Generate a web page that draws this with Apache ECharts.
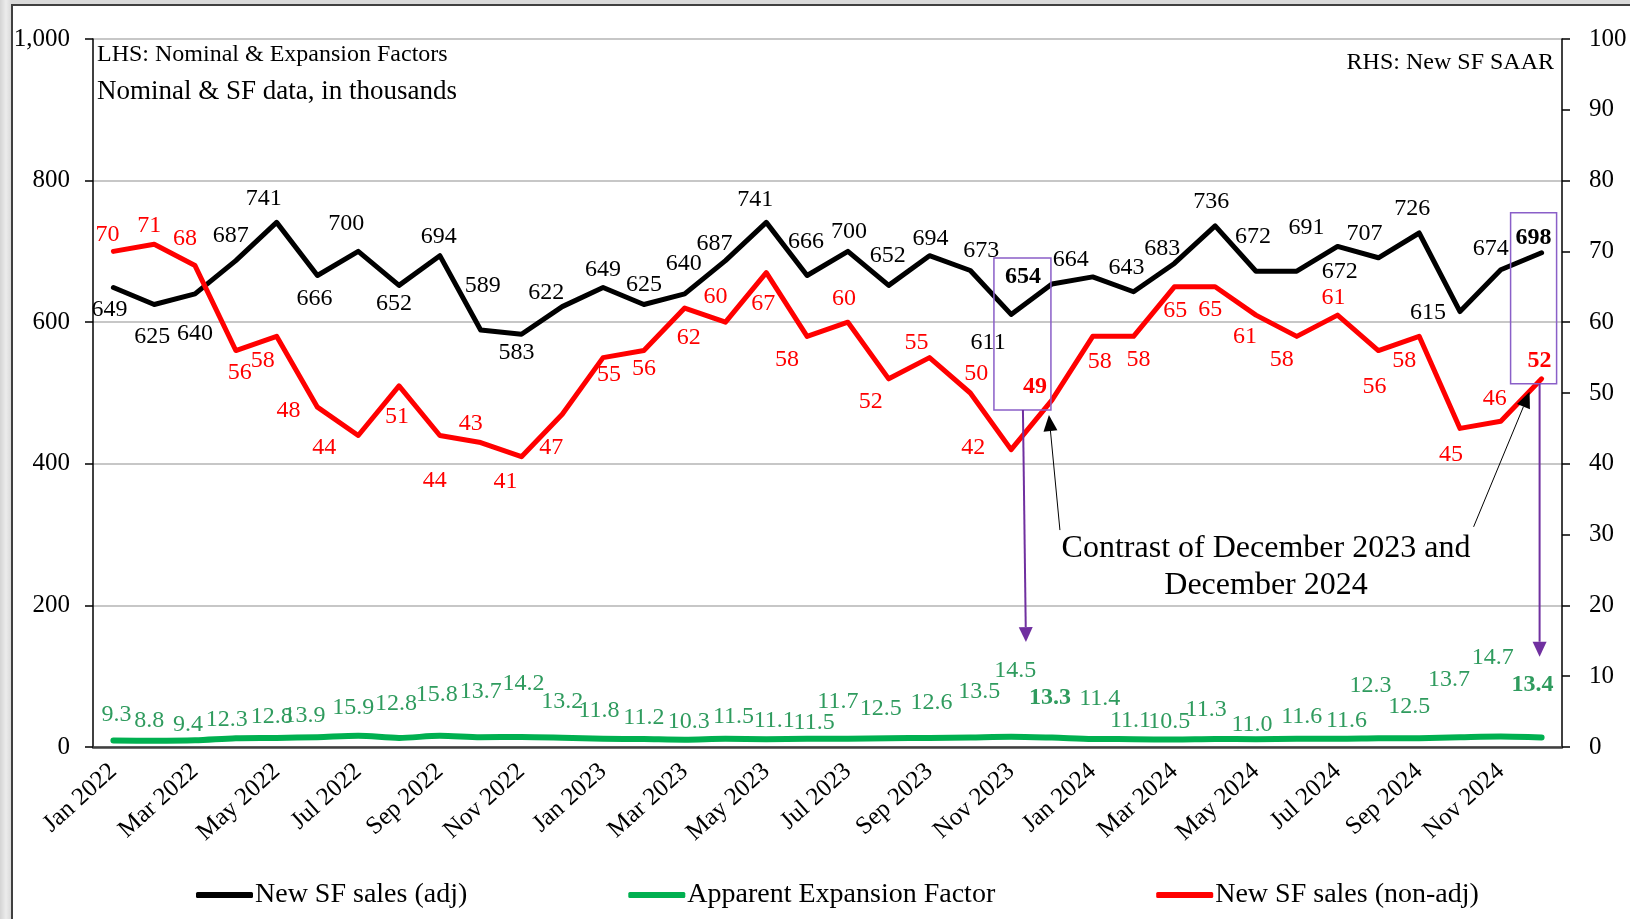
<!DOCTYPE html>
<html>
<head>
<meta charset="utf-8">
<script src="https://cdn.jsdelivr.net/npm/echarts@6/dist/echarts.min.js"></script>
<style>
  html, body { margin: 0; padding: 0; width: 1630px; height: 919px; overflow: hidden;
    background: linear-gradient(90deg, #d4d4d4, #ececec 6px, #dadada 11px); }
  #frame { position: absolute; left: 11px; top: 4px; width: 1700px; height: 1000px; background: #fff;
    border-left: 2px solid #404040; border-top: 2px solid #404040; }
  #chart { position: absolute; left: 0; top: 0; width: 1630px; height: 919px; }
</style>
</head>
<body>
<div id="frame"></div>
<div id="chart"></div>
<script>
// Monthly categories, Jan 2022 – Dec 2024
const categories = [
  'Jan 2022','Feb 2022','Mar 2022','Apr 2022','May 2022','Jun 2022','Jul 2022','Aug 2022','Sep 2022','Oct 2022','Nov 2022','Dec 2022',
  'Jan 2023','Feb 2023','Mar 2023','Apr 2023','May 2023','Jun 2023','Jul 2023','Aug 2023','Sep 2023','Oct 2023','Nov 2023','Dec 2023',
  'Jan 2024','Feb 2024','Mar 2024','Apr 2024','May 2024','Jun 2024','Jul 2024','Aug 2024','Sep 2024','Oct 2024','Nov 2024','Dec 2024'
];

// New single-family sales, seasonally adjusted annual rate (thousands) – left axis
const salesAdj = [
  649, 625, 640, 687, 741, 666, 700, 652, 694, 589, 583, 622,
  649, 625, 640, 687, 741, 666, 700, 652, 694, 673, 611, 654,
  664, 643, 683, 736, 672, 672, 707, 691, 726, 615, 674, 698
];

// Apparent expansion factor (adj / non-adj) – left axis
const expansionFactor = [
  9.3, 8.8, 9.4, 12.3, 12.8, 13.9, 15.9, 12.8, 15.8, 13.7, 14.2, 13.2,
  11.8, 11.2, 10.3, 11.5, 11.1, 11.5, 11.7, 12.5, 12.6, 13.5, 14.5, 13.3,
  11.4, 11.1, 10.5, 11.3, 11.0, 11.6, 11.6, 12.3, 12.5, 13.7, 14.7, 13.4
];

// New single-family sales, not seasonally adjusted (thousands) – right axis
const salesNonAdj = [
  70, 71, 68, 56, 58, 48, 44, 51, 44, 43, 41, 47,
  55, 56, 62, 60, 67, 58, 60, 52, 55, 50, 42, 49,
  58, 58, 65, 65, 61, 58, 61, 56, 58, 45, 46, 52
];

// Axis ranges
const leftAxis = { min: 0, max: 1000, interval: 200 };
const rightAxis = { min: 0, max: 100, interval: 10 };

// December 2023 and December 2024 are called out in bold
const highlighted = [23, 35];

// Label placement (pixel offset of each label centre from its point)
const adjLabelOffsets = [
  [-4,22],[-2,32],[0,40],[-5,-25],[-13,-24],[-3,23],[-12,-28],[-5,18],[-1,-19],[2,-44],[-5,18],[-16,-14],
  [0,-18],[0,-20],[-1,-30],[-11,-17],[-11,-23],[-1,-34],[1,-20],[-1,-30],[1,-17],[11,-20],[-23,28],[-29,-7],
  [-22,-17],[-7,-24],[-12,-15],[-4,-24],[-3,-35],[43,0],[27,-13],[-72,-30],[-7,-24],[-32,1],[-10,-21],[-8,-15]
];
const nonAdjLabelOffsets = [
  [-6,-17],[-5,-19],[-10,-27],[4,22],[-14,24],[-29,4],[-34,12],[-2,31],[-5,45],[-10,-19],[-16,25],[-11,33],
  [6,17],[0,18],[4,30],[-10,-25],[-3,31],[-20,23],[-4,-23],[-18,23],[-13,-15],[6,-19],[-38,-2],[-17,-13],
  [7,25],[5,23],[1,24],[-5,23],[-11,22],[-15,23],[-4,-17],[-4,36],[-15,24],[-9,26],[-6,-23],[-2,-18]
];
const factorLabelOffsets = [
  [3,-26],[-5,-20],[-7,-16],[-9,-19],[-5,-21],[-13,-21],[-5,-28],[-3,-34],[-3,-41],[0,-46],[2,-53],[0,-36],
  [-4,-28],[0,-21],[4,-18],[8,-22],[8,-18],[7,-16],[-10,-37],[-8,-29],[2,-35],[9,-46],[4,-66],[-2,-40],
  [7,-40],[-3,-18],[-5,-18],[-9,-29],[-4,-15],[5,-22],[9,-18],[-8,-53],[-10,-31],[-11,-58],[-8,-79],[-9,-53]
];

const FONT = "'Liberation Serif', 'Times New Roman', serif";

function withLabels(values, offsets) {
  return values.map((v, i) => ({
    value: v,
    label: { offset: offsets[i], fontWeight: highlighted.includes(i) ? 'bold' : 'normal' }
  }));
}

function lineSeries(name, values, offsets, opts) {
  return {
    name: name,
    type: 'line',
    yAxisIndex: opts.axis,
    data: withLabels(values, offsets),
    symbol: 'circle',
    symbolSize: 1,
    showSymbol: true,
    smooth: opts.smooth || false,
    lineStyle: { color: opts.color, width: opts.width, cap: 'round', join: 'round' },
    itemStyle: { color: opts.color },
    label: {
      show: true, position: 'inside', align: 'center', verticalAlign: 'middle',
      color: opts.labelColor, fontSize: 24, fontFamily: FONT,
      formatter: opts.formatter
    },
    emphasis: { disabled: true },
    z: opts.z
  };
}

const chart = echarts.init(document.getElementById('chart'), null, { renderer: 'canvas' });

chart.setOption({
  animation: false,
  backgroundColor: 'transparent',
  textStyle: { fontFamily: FONT },
  grid: { left: 93, right: 68, top: 39, bottom: 172 },
  legend: {
    data: ['New SF sales (adj)', 'Apparent Expansion Factor', 'New SF sales (non-adj)'],
    left: 191, top: 876,
    icon: 'roundRect', itemWidth: 57, itemHeight: 6, itemGap: 161,
    textStyle: { fontSize: 28, fontFamily: FONT, color: '#000', padding: [0, 0, 0, -3] }
  },
  xAxis: {
    type: 'category',
    data: categories,
    boundaryGap: true,
    axisLine: { lineStyle: { color: '#404040', width: 2.5 } },
    axisTick: { interval: 1, length: 9, lineStyle: { color: '#404040', width: 1.5 } },
    axisLabel: { interval: 1, rotate: 42, fontSize: 25, fontFamily: FONT, color: '#000', margin: 21 }
  },
  yAxis: [
    {
      type: 'value', position: 'left',
      min: leftAxis.min, max: leftAxis.max, interval: leftAxis.interval,
      axisLine: { show: true, lineStyle: { color: '#000', width: 1.5 } },
      axisTick: { show: true, length: 8, lineStyle: { color: '#000', width: 1.5 } },
      axisLabel: { fontSize: 25, fontFamily: FONT, color: '#000', margin: 23,
        formatter: v => v.toLocaleString('en-US') },
      splitLine: { show: true, lineStyle: { color: '#b4b4b4', width: 1.5 } }
    },
    {
      type: 'value', position: 'right',
      min: rightAxis.min, max: rightAxis.max, interval: rightAxis.interval,
      axisLine: { show: true, lineStyle: { color: '#000', width: 1.5 } },
      axisTick: { show: true, length: 8, lineStyle: { color: '#000', width: 1.5 } },
      axisLabel: { fontSize: 25, fontFamily: FONT, color: '#000', margin: 27 },
      splitLine: { show: false }
    }
  ],
  series: [
    lineSeries('New SF sales (adj)', salesAdj, adjLabelOffsets,
      { axis: 0, color: '#000000', width: 5, labelColor: '#000', z: 4 }),
    lineSeries('Apparent Expansion Factor', expansionFactor, factorLabelOffsets,
      { axis: 0, color: '#00b050', width: 6, labelColor: '#2f9b5e', smooth: 0.3, z: 3,
        formatter: p => p.value.toFixed(1) }),
    lineSeries('New SF sales (non-adj)', salesNonAdj, nonAdjLabelOffsets,
      { axis: 1, color: '#ff0000', width: 5, labelColor: '#ff0000', z: 5 })
  ]
});

// Annotations anchored to the December 2023 and December 2024 points
function px(idx, value, axis) {
  return chart.convertToPixel({ xAxisIndex: 0, yAxisIndex: axis }, [idx, value]);
}

function arrow(x1, y1, x2, y2, color, width, headLen, headHalf) {
  const a = Math.atan2(y2 - y1, x2 - x1);
  const bx = x2 - headLen * Math.cos(a), by = y2 - headLen * Math.sin(a);
  const nx = -Math.sin(a), ny = Math.cos(a);
  return [
    { type: 'line', z: 100, silent: true,
      shape: { x1: x1, y1: y1, x2: bx, y2: by }, style: { stroke: color, lineWidth: width } },
    { type: 'polygon', z: 100, silent: true,
      shape: { points: [[x2, y2], [bx + headHalf * nx, by + headHalf * ny], [bx - headHalf * nx, by - headHalf * ny]] },
      style: { fill: color } }
  ];
}

function box(x1, y1, x2, y2) {
  return { type: 'rect', z: 100, silent: true,
    shape: { x: x1, y: y1, width: x2 - x1, height: y2 - y1 },
    style: { fill: 'none', stroke: '#8a5fc8', lineWidth: 1.5 } };
}

function text(str, x, y, size, align) {
  return { type: 'text', z: 100, silent: true,
    style: { text: str, x: x, y: y, fill: '#000', font: size + 'px ' + FONT,
      textAlign: align || 'left', textVerticalAlign: 'middle' } };
}

const b23 = px(23, salesAdj[23], 0), r23 = px(23, salesNonAdj[23], 1);
const b35 = px(35, salesAdj[35], 0), r35 = px(35, salesNonAdj[35], 1);
const PURPLE = '#7030a0';

const elements = [
  text('LHS: Nominal & Expansion Factors', 97, 55, 24),
  text('Nominal & SF data, in thousands', 97, 92, 27),
  text('RHS: New SF SAAR', 1554, 63, 24, 'right'),
  text('Contrast of December 2023 and', 1266, 549, 32, 'center'),
  text('December 2024', 1266, 586, 32, 'center'),
  box(b23[0] - 58, b23[1] - 26, b23[0] - 1, r23[1] + 10),
  box(b35[0] - 31, b35[1] - 40, b35[0] + 15, r35[1] + 5),
  ...arrow(b23[0] - 29, r23[1] + 10, b23[0] - 26, r23[1] + 242, PURPLE, 2, 15, 7),
  ...arrow(b35[0] - 2, r35[1] + 5, b35[0] - 2, r35[1] + 278, PURPLE, 2, 15, 7),
  ...arrow(r23[0] + 8, r23[1] + 130, r23[0] - 3, r23[1] + 15, '#000', 1, 16, 7),
  ...arrow(r35[0] - 68, r35[1] + 148, r35[0] - 12, r35[1] + 13, '#000', 1, 16, 7)
];

chart.setOption({ graphic: { elements: elements } });
</script>
</body>
</html>
